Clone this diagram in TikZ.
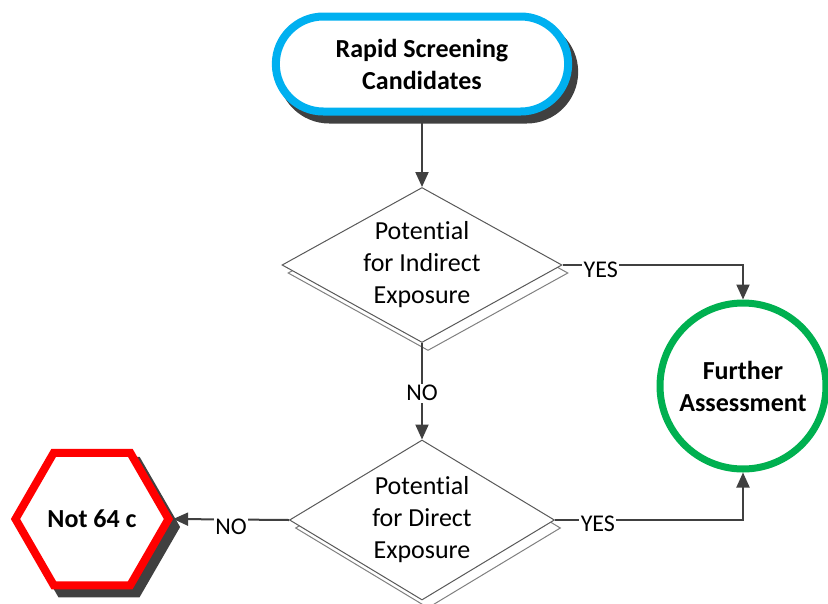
\documentclass[tikz,border=0pt]{standalone}
\usepackage{fontspec}
\setmainfont{Carlito}[RawFeature={-liga,-clig,-dlig,-calt,-rlig}]
\usetikzlibrary{shapes.geometric,shapes.misc,arrows.meta,shadows}
\definecolor{cblue}{HTML}{00B0F0}
\definecolor{cgreen}{HTML}{00B050}
\definecolor{cred}{HTML}{FF0000}
\definecolor{cdark}{HTML}{404040}
\definecolor{cline}{HTML}{595959}
\definecolor{cshadow}{HTML}{808080}
\begin{document}
\begin{tikzpicture}[x=1pt,y=-1pt,
  term/.style={rounded rectangle, draw=cblue, line width=8pt, fill=white,
    minimum width=299pt, minimum height=95pt, align=center,
    font=\fontsize{26}{32}\selectfont\bfseries,
    drop shadow={shadow xshift=6pt, shadow yshift=-8pt, fill=cdark, draw=cdark, line width=8pt, opacity=1}},
  dec/.style={diamond, draw=cline, line width=1pt, fill=white, inner sep=0pt,
    drop shadow={shadow xshift=6pt, shadow yshift=-8pt, fill=white, draw=cshadow, line width=1pt, opacity=1}},
  dectext/.style={align=center, font=\fontsize{26}{32}\selectfont},
  hexa/.style={regular polygon, regular polygon sides=6, minimum size=153pt, inner sep=0pt,
    draw=cred, line width=8pt, fill=white, font=\fontsize{26}{32}\selectfont\bfseries,
    drop shadow={shadow xshift=7pt, shadow yshift=-8pt, fill=cdark, draw=cdark, line width=8pt, opacity=1}},
  endc/.style={circle, draw=cgreen, line width=7pt, fill=white, minimum size=166pt, inner sep=0pt,
    align=center, font=\fontsize{26}{32}\selectfont\bfseries},
  conn/.style={draw=cdark, line width=2pt, -{Triangle[length=15pt,width=13pt]}},
  lbl/.style={fill=white, inner sep=1.5pt, text=black, font=\fontsize{24}{28}\selectfont}
]
\useasboundingbox (0,0) rectangle (828,603);
\node[term] (rsc) at (422,64) {Rapid Screening\\Candidates};
\node[dec, minimum width=280pt, minimum height=155pt] (d1) at (422,265) {};
\node[dectext] (t1) at (d1.center) {Potent\kern0pt ial\\for Indirect\\Exposure};
\node[dec, minimum width=265pt, minimum height=160pt] (d2) at (422,520) {};
\node[dectext] (t2) at (d2.center) {Potent\kern0pt ial\\for Direct\\Exposure};
\node[endc] (fa) at (743,386) {Further\\Assessment};
\node[hexa] (hex) at (92,519) {Not 64 c};
\draw[conn] (rsc.south) -- (d1.north);
\draw[conn] (d1.east) -| node[lbl, pos=0.106, yshift=-5pt] {YES} (fa.north);
\draw[conn] (d1.south) -- node[lbl, yshift=-2pt] {NO} (d2.north);
\draw[conn] (d2.west) -- node[lbl, yshift=-7pt] {NO} (hex.east);
\draw[conn] (d2.east) -| node[lbl, pos=0.114, yshift=-4pt] {YES} (fa.south);
\end{tikzpicture}
\end{document}
